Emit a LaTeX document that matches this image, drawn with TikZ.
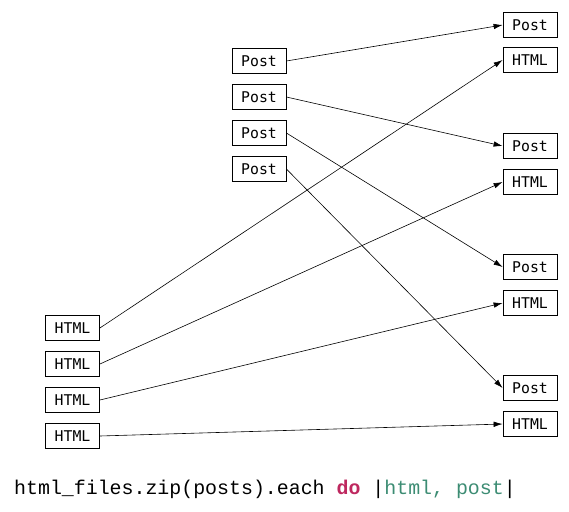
\documentclass[tikz,border=0pt]{standalone}
\usepackage{fontspec}
\setmonofont{DejaVu Sans Mono}
\newfontfamily\codefont{Liberation Mono}
\usetikzlibrary{arrows.meta}
\definecolor{kwred}{RGB}{190,40,95}
\definecolor{vargreen}{RGB}{60,140,115}
\tikzset{
  box/.style={draw, line width=0.8pt, minimum width=54pt, minimum height=25pt, inner sep=0pt, font=\fontsize{14.8}{16}\selectfont\ttfamily},
  link/.style={line width=0.6pt, -{Latex[length=9pt,width=5.5pt]}}
}
\begin{document}
\begin{tikzpicture}[x=1pt,y=-1pt]
\useasboundingbox (0,0) rectangle (569,511);
% middle posts
\node[box] (p1) at (259,61) {Post};
\node[box] (p2) at (259,97) {Post};
\node[box] (p3) at (259,133) {Post};
\node[box] (p4) at (259,169) {Post};
% left html
\node[box] (h1) at (72.5,328) {HTML};
\node[box] (h2) at (72.5,364) {HTML};
\node[box] (h3) at (72.5,400) {HTML};
\node[box] (h4) at (72.5,436) {HTML};
% right column
\node[box] (rp1) at (530,25) {Post};
\node[box] (rh1) at (530,60) {HTML};
\node[box] (rp2) at (530,146) {Post};
\node[box] (rh2) at (530,182) {HTML};
\node[box] (rp3) at (530,267) {Post};
\node[box] (rh3) at (530,303) {HTML};
\node[box] (rp4) at (530,388) {Post};
\node[box] (rh4) at (530,424) {HTML};
% links
\draw[link] (p1.east) -- (rp1.west);
\draw[link] (p2.east) -- (rp2.west);
\draw[link] (p3.east) -- (rp3.west);
\draw[link] (p4.east) -- (rp4.west);
\draw[link] (h1.east) -- (rh1.west);
\draw[link] (h2.east) -- (rh2.west);
\draw[link] (h3.east) -- (rh3.west);
\draw[link] (h4.east) -- (rh4.west);
% code
\node[anchor=base west, inner sep=0pt, font=\fontsize{19.9}{22}\selectfont\codefont] (code) at (14,494)
  {html\_files.zip(posts).each \textcolor{kwred}{\textbf{do}} |\textcolor{vargreen}{html, post}|};
\end{tikzpicture}
\end{document}
